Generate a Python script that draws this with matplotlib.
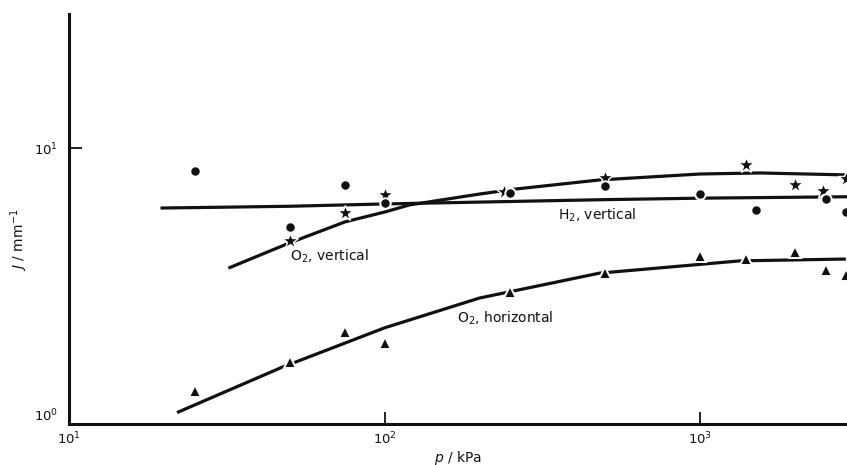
import matplotlib

matplotlib.use("Agg")
import matplotlib.pyplot as plt
import numpy as np

# Measured points, p in kPa, J in mm^-1
H2_VERT_P = [25, 50, 75, 100, 250, 500, 1000, 1500, 2500, 2900]
H2_VERT_J = [8.25, 5.17, 7.34, 6.32, 6.87, 7.28, 6.81, 5.96, 6.53, 5.87]

O2_VERT_P = [50, 75, 100, 240, 500, 1400, 2000, 2450, 2900]
O2_VERT_J = [4.60, 5.81, 6.76, 6.93, 7.79, 8.68, 7.34, 6.98, 7.72]

O2_HORIZ_P = [25, 50, 75, 100, 250, 500, 1000, 1400, 2000, 2500, 2900]
O2_HORIZ_J = [1.32, 1.68, 2.15, 1.97, 3.01, 3.52, 4.06, 3.96, 4.20, 3.61, 3.46]

# Hand-drawn fit curves
H2_FIT_P = [19.5, 30, 50, 100, 250, 500, 1000, 3000]
H2_FIT_J = [6.06, 6.10, 6.15, 6.27, 6.40, 6.50, 6.58, 6.66]

O2_VERT_FIT_P = [32, 50, 75, 100, 120, 200, 260, 480, 1000, 1550, 2900]
O2_VERT_FIT_J = [3.67, 4.53, 5.40, 5.86, 6.22, 6.81, 7.10, 7.66, 8.05, 8.12, 7.99]

O2_HORIZ_FIT_P = [22, 47, 100, 200, 480, 1340, 2900]
O2_HORIZ_FIT_J = [1.10, 1.60, 2.23, 2.86, 3.52, 3.90, 3.96]

INK = "#111111"

fig = plt.figure(figsize=(8.47, 4.65), dpi=100, facecolor="white")
ax = fig.add_axes([69 / 847, 1 - 424 / 465, 1 - 69 / 847, 410 / 465])

for p, j in ((H2_FIT_P, H2_FIT_J), (O2_VERT_FIT_P, O2_VERT_FIT_J), (O2_HORIZ_FIT_P, O2_HORIZ_FIT_J)):
    ax.plot(p, j, color=INK, lw=2.3, solid_capstyle="butt", solid_joinstyle="round", zorder=2)

mk = dict(ls="none", color=INK, mec="white", zorder=3)
ax.plot(O2_VERT_P, O2_VERT_J, marker="*", ms=12, mew=1.0, **mk)
ax.plot(H2_VERT_P, H2_VERT_J, marker="o", ms=7.5, mew=1.4, **mk)
ax.plot(O2_HORIZ_P, O2_HORIZ_J, marker="^", ms=9, mew=1.4, **mk)

ax.set_xscale("log")
ax.set_yscale("log")
ax.set_xlim(10, 10 ** (1 + 778 / 315.5))
ax.set_ylim(1, 10 ** (410 / 276))

ax.set_xticks([10, 100, 1000])
ax.set_yticks([1, 10])
ax.minorticks_off()
ax.tick_params(axis="both", direction="in", length=9, width=1.3, labelsize=9.5, colors=INK)
ax.tick_params(axis="x", pad=5)
ax.tick_params(axis="y", pad=8)
# lift the 10^0 label off the corner so it clears the 10^1 x label
ax.get_yticklabels()[0].set_verticalalignment("bottom")
for side in ("top", "right"):
    ax.spines[side].set_visible(False)
for side in ("left", "bottom"):
    ax.spines[side].set_linewidth(2.2)
    ax.spines[side].set_color(INK)

ax.set_xlabel(r"$p$ / kPa", fontsize=10, color=INK, va="top")
ax.xaxis.set_label_coords(0.5, -0.06)
ax.set_ylabel(r"$J$ / mm$^{-1}$", fontsize=10, color=INK)
ax.yaxis.set_label_coords(-0.05, 0.45)

ax.text(50.2, 4.06, r"O$_2$, vertical", fontsize=10, ha="left", va="center", color=INK)
ax.text(355, 5.72, r"H$_2$, vertical", fontsize=10, ha="left", va="center", color=INK)
ax.text(170, 2.42, r"O$_2$, horizontal", fontsize=10, ha="left", va="center", color=INK)

fig.savefig("out.png", dpi=100, facecolor="white")
